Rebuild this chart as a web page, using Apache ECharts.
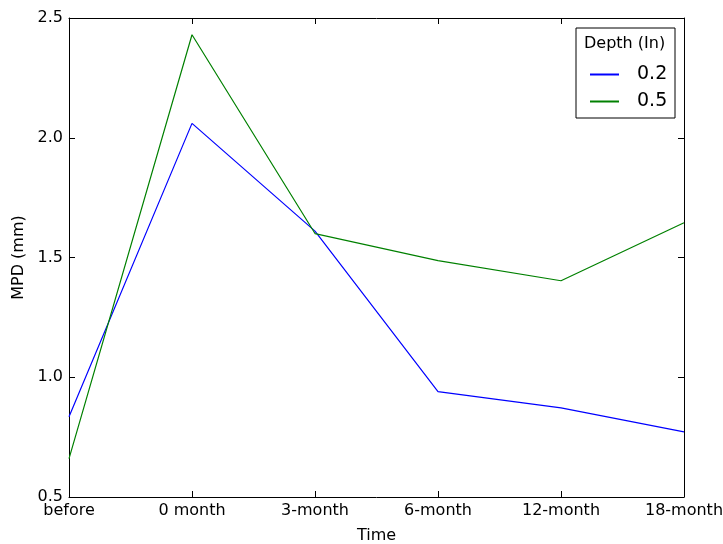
<!DOCTYPE html>
<html><head><meta charset="utf-8">
<script src="https://cdn.jsdelivr.net/npm/echarts@6/dist/echarts.min.js"></script>
<style>html,body{margin:0;padding:0;background:#fff}#c{width:723px;height:544px}</style>
</head><body><div id="c"></div>
<script>
const categories = ['before', '0 month', '3-month', '6-month', '12-month', '18-month'];
const depth02 = [0.835, 2.06, 1.61, 0.94, 0.872, 0.772];
const depth05 = [0.66, 2.43, 1.60, 1.487, 1.403, 1.645];
const yTicks = { min: 0.5, max: 2.5, interval: 0.5 };
const seriesNames = ['0.2', '0.5'];
const legendTitle = 'Depth (In)';

const font = 'DejaVu Sans';
const chart = echarts.init(document.getElementById('c'));
const axisLine = { show: true, lineStyle: { color: '#000', width: 1 } };
chart.setOption({
  animation: false,
  grid: { left: 69, right: 39, top: 18, bottom: 47, show: false, containLabel: false, outerBoundsMode: 'none' },
  xAxis: [
    { type: 'category', data: categories, boundaryGap: false, position: 'bottom',
      name: 'Time', nameLocation: 'middle', nameGap: 31,
      nameTextStyle: { fontFamily: font, fontSize: 16, color: '#000' },
      axisLine, axisTick: { inside: true, length: 6, lineStyle: { color: '#000' } },
      axisLabel: { fontFamily: font, fontSize: 16, color: '#000', margin: 6 },
      splitLine: { show: false } },
    { type: 'category', data: categories, boundaryGap: false, position: 'top',
      axisLine, axisTick: { inside: true, length: 6, lineStyle: { color: '#000' } },
      axisLabel: { show: false }, splitLine: { show: false } }
  ],
  yAxis: [
    { type: 'value', min: yTicks.min, max: yTicks.max, interval: yTicks.interval, position: 'left',
      name: 'MPD (mm)', nameLocation: 'middle', nameGap: 37,
      nameTextStyle: { fontFamily: font, fontSize: 16, color: '#000' },
      axisLine, axisTick: { show: true, inside: true, length: 6, lineStyle: { color: '#000' } },
      axisLabel: { fontFamily: font, fontSize: 16, color: '#000', margin: 6,
        formatter: v => v.toFixed(1) },
      splitLine: { show: false } },
    { type: 'value', min: yTicks.min, max: yTicks.max, interval: yTicks.interval, position: 'right',
      axisLine, axisTick: { show: true, inside: true, length: 6, lineStyle: { color: '#000' } },
      axisLabel: { show: false }, splitLine: { show: false } }
  ],
  legend: {
    orient: 'vertical', left: 585, top: 60, itemGap: 8,
    itemWidth: 29, itemHeight: 2, icon: 'rect',
    textStyle: { fontFamily: font, fontSize: 19, color: '#000', padding: [0, 0, 0, 13] },
    data: seriesNames
  },
  graphic: [
    { type: 'rect', shape: { x: 576, y: 28, width: 99, height: 90 },
      style: { fill: '#fff', stroke: '#000', lineWidth: 1 }, z: 0 },
    { type: 'text', x: 584, y: 36, style: { text: legendTitle, fontFamily: font, fontSize: 16, fill: '#000' }, z: 1 }
  ],
  series: [
    { name: seriesNames[0], type: 'line', data: depth02, symbol: 'none',
      lineStyle: { color: '#0000ff', width: 1.2 }, itemStyle: { color: '#0000ff' } },
    { name: seriesNames[1], type: 'line', data: depth05, symbol: 'none',
      lineStyle: { color: '#008000', width: 1.2 }, itemStyle: { color: '#008000' } }
  ]
});
</script></body></html>
